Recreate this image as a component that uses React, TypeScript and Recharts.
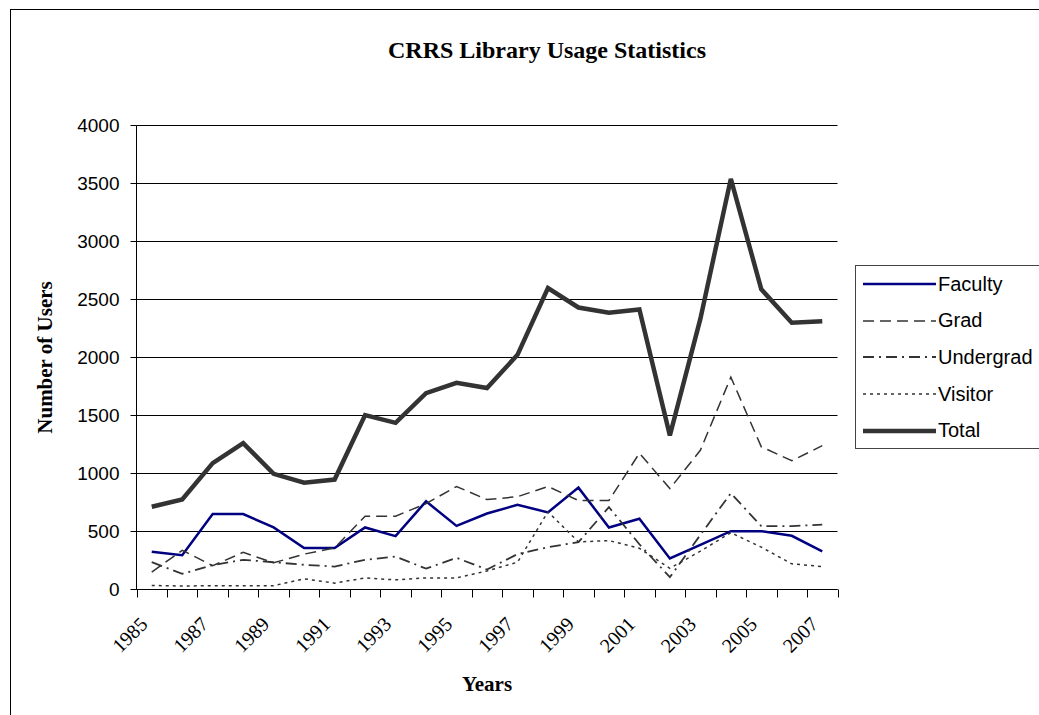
import { CartesianGrid, Label, Legend, Line, LineChart, XAxis, YAxis } from "recharts"

const years = [
  "1985", "1986", "1987", "1988", "1989", "1990", "1991", "1992", "1993", "1994", "1995", "1996",
  "1997", "1998", "1999", "2000", "2001", "2002", "2003", "2004", "2005", "2006", "2007",
]
const faculty = [325, 295, 650, 650, 535, 358, 358, 535, 460, 760, 548, 655, 730, 665, 878, 535, 610, 268, 385, 503, 503, 463, 328]
const grad = [150, 338, 205, 320, 230, 305, 358, 632, 632, 740, 888, 775, 800, 888, 767, 767, 1175, 870, 1200, 1830, 1230, 1110, 1240]
const undergrad = [236, 135, 210, 256, 235, 213, 198, 256, 284, 180, 273, 172, 305, 365, 408, 710, 390, 106, 470, 830, 546, 546, 560]
const visitor = [35, 30, 33, 33, 33, 92, 55, 100, 83, 100, 100, 160, 235, 670, 410, 422, 355, 183, 330, 490, 365, 221, 198]
const total = [713, 776, 1089, 1262, 997, 920, 948, 1503, 1437, 1692, 1782, 1737, 2023, 2598, 2431, 2385, 2414, 1328, 2333, 3540, 2588, 2299, 2313]
const yTicks = [0, 500, 1000, 1500, 2000, 2500, 3000, 3500, 4000]

const series = [
  { key: "faculty", name: "Faculty", color: "#000080", width: 2.5, dash: undefined as string | undefined },
  { key: "grad", name: "Grad", color: "#333333", width: 1.5, dash: "11 6" },
  { key: "undergrad", name: "Undergrad", color: "#333333", width: 1.8, dash: "11 5 2 5" },
  { key: "visitor", name: "Visitor", color: "#333333", width: 1.5, dash: "3 4" },
  { key: "total", name: "Total", color: "#333333", width: 4.5, dash: undefined },
]

const data = years.map((year, i) => ({
  year,
  faculty: faculty[i],
  grad: grad[i],
  undergrad: undergrad[i],
  visitor: visitor[i],
  total: total[i],
}))

const serif = '"Liberation Serif", "Times New Roman", serif'
const sans = '"Liberation Sans", Arial, sans-serif'

// chart canvas and plot box (half pixels keep 1px lines crisp)
const W = 1039
const H = 715
const plotLeft = 136.5
const plotRight = 837.5
const plotTop = 125.5
const plotBottom = 589.5
const band = (plotRight - plotLeft) / years.length

function YearTick(props: any) {
  const { x, y, payload, index } = props
  const lx = x - 3
  const ly = y + 36
  const edge = Math.round(x - band / 2) + 0.5
  return (
    <g>
      <line x1={edge} x2={edge} y1={y} y2={y + 8} stroke="#000" />
      {index === years.length - 1 && (
        <line x1={Math.round(x + band / 2) + 0.5} x2={Math.round(x + band / 2) + 0.5} y1={y} y2={y + 8} stroke="#000" />
      )}
      {index % 2 === 0 && (
        <text x={lx} y={ly} textAnchor="end" transform={`rotate(-45 ${lx} ${ly})`} fontFamily={serif} fontSize={20} fill="#000">
          {payload.value}
        </text>
      )}
    </g>
  )
}

function LegendBox() {
  return (
    <div style={{ width: 190, height: 184, border: "1px solid #444", boxSizing: "border-box", background: "#fff" }}>
      {series.map((s) => (
        <div key={s.key} style={{ display: "flex", alignItems: "center", height: 36.6 }}>
          <svg width={82} height={10} style={{ display: "block" }}>
            <line x1={7} x2={80} y1={5} y2={5} stroke={s.color} strokeWidth={s.width} strokeDasharray={s.dash} />
          </svg>
          <span style={{ fontFamily: sans, fontSize: 20, color: "#000", whiteSpace: "nowrap" }}>{s.name}</span>
        </div>
      ))}
    </div>
  )
}

export default function App() {
  return (
    <div style={{ position: "absolute", left: 0, top: 0, width: W, height: H, overflow: "hidden", background: "#fff" }}>
      <div style={{ position: "absolute", left: 10, top: 9, width: 1100, height: 800, border: "1px solid #000" }} />
      <div style={{ position: "absolute", left: 0, top: 0 }}>
        <LineChart
          width={W}
          height={H}
          data={data}
          margin={{ top: plotTop, right: W - plotRight, left: 0, bottom: 0 }}
        >
          <CartesianGrid vertical={false} stroke="#000" strokeWidth={1} />
          <XAxis
            dataKey="year"
            height={H - plotBottom}
            interval={0}
            padding={{ left: band / 2, right: band / 2 }}
            tickLine={false}
            tickSize={0}
            tickMargin={0}
            axisLine={{ stroke: "#000" }}
            tick={<YearTick />}
          >
            <Label
              value="Years"
              position="insideBottom"
              offset={24}
              style={{ fontFamily: serif, fontSize: 21, fontWeight: "bold", fill: "#000" }}
            />
          </XAxis>
          <YAxis
            width={plotLeft}
            domain={[0, 4000]}
            ticks={yTicks}
            interval={0}
            tickSize={6}
            tickMargin={11}
            axisLine={{ stroke: "#000" }}
            tickLine={{ stroke: "#000" }}
            tick={{ fontFamily: sans, fontSize: 19, fill: "#000" }}
          >
            <Label
              value="Number of Users"
              angle={-90}
              position="insideLeft"
              offset={45}
              style={{ textAnchor: "middle", fontFamily: serif, fontSize: 21, fontWeight: "bold", fill: "#000" }}
            />
          </YAxis>
          <YAxis
            yAxisId="frame"
            orientation="right"
            width={0}
            tick={false}
            tickLine={false}
            axisLine={{ stroke: "#808080", strokeWidth: 2 }}
          />
          <Legend
            layout="vertical"
            align="center"
            verticalAlign="middle"
            wrapperStyle={{ left: 855, top: 265, width: 190, height: 184 }}
            content={() => <LegendBox />}
          />
          {series.map((s) => (
            <Line
              key={s.key}
              type="linear"
              dataKey={s.key}
              name={s.name}
              stroke={s.color}
              strokeWidth={s.width}
              strokeDasharray={s.dash}
              dot={false}
              activeDot={false}
              isAnimationActive={false}
            />
          ))}
        </LineChart>
      </div>
      <div
        style={{
          position: "absolute",
          left: 0,
          top: 38,
          width: 1094,
          textAlign: "center",
          fontFamily: serif,
          fontSize: 24,
          fontWeight: "bold",
          lineHeight: "24px",
          color: "#000",
          whiteSpace: "nowrap",
        }}
      >
        CRRS Library Usage Statistics
      </div>
    </div>
  )
}
